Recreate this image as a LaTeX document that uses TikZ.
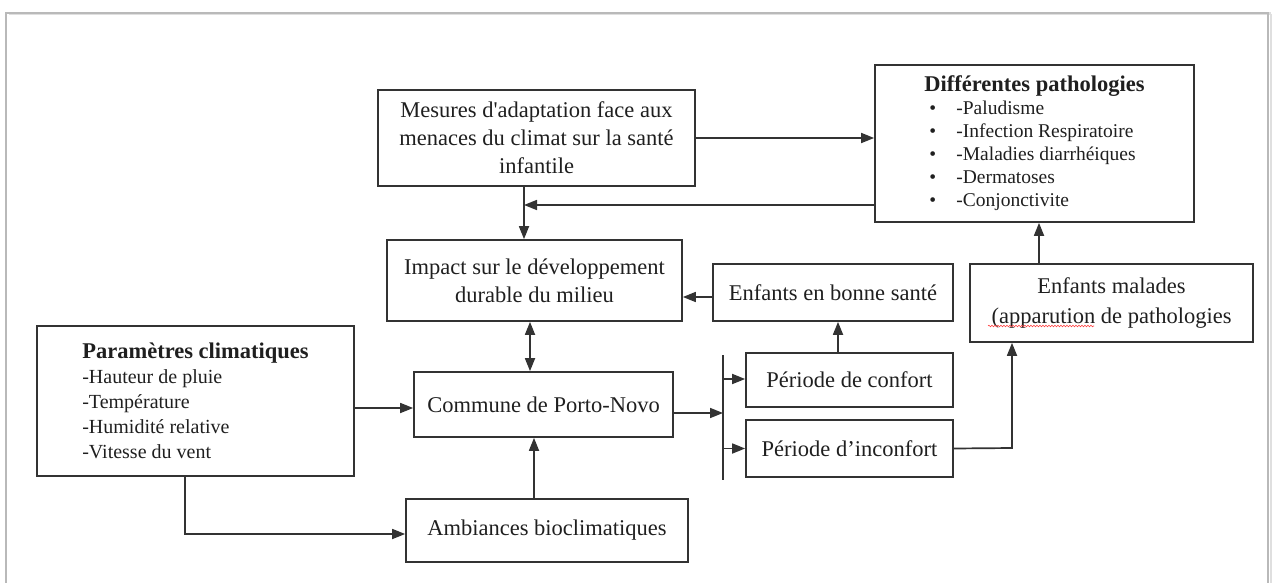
\documentclass[tikz,border=0pt]{standalone}
\usepackage{fontspec}
\setmainfont{Liberation Serif}
\newfontfamily\rawserif{Liberation Serif}
\usetikzlibrary{arrows.meta,decorations.pathmorphing}
\begin{document}
\begin{tikzpicture}[x=1pt,y=-1pt,
  box/.style={draw=black!80,line width=1.7pt,inner sep=2pt,text=black!88,
    font=\fontsize{22.5}{28}\selectfont,align=center},
  tip/.tip={Triangle[length=13pt,width=10pt]},
  arr/.style={draw=black!80,line width=1.7pt,-tip},
  dbl/.style={draw=black!80,line width=1.7pt,tip-tip},
  ln/.style={draw=black!80,line width=1.7pt}]
\useasboundingbox (0,0) rectangle (1276,583);
% page frame
\draw[gray!25,line width=3pt] (9,14) -- (1271,14);
\draw[gray!55,line width=2pt] (6,600) -- (6,13) -- (1268,13) -- (1268,600);
\draw[gray!25,line width=2pt] (1271,14) -- (1271,600);
% nodes
\node[box,minimum width=317pt,minimum height=96pt] (mesures) at (536.5,138)
  {Mesures d{\rawserif'}adaptation face aux\\menaces du climat sur la santé\\infantile};
\node[box,minimum width=319pt,minimum height=157pt,align=left,
  font=\fontsize{19.5}{23}\selectfont] (patho) at (1034.5,143.5)
  {{\fontsize{22.5}{23}\selectfont\bfseries Différentes pathologies}\\
   \hspace*{5pt}\makebox[27pt][l]{•}-Paludisme\\
   \hspace*{5pt}\makebox[27pt][l]{•}-Infection Respiratoire\\
   \hspace*{5pt}\makebox[27pt][l]{•}-Maladies diarrhéiques\\
   \hspace*{5pt}\makebox[27pt][l]{•}-Dermatoses\\
   \hspace*{5pt}\makebox[27pt][l]{•}-Conjonctivite};
\node[box,minimum width=295pt,minimum height=81pt] (impact) at (534.5,280.5)
  {Impact sur le développement\\durable du milieu};
\node[box,minimum width=240pt,minimum height=57pt] (bonne) at (833,292.5)
  {Enfants en bonne santé};
\node[box,minimum width=283pt,minimum height=78pt,font=\fontsize{22.5}{30}\selectfont] (malades) at (1111.5,303)
  {Enfants malades\\(apparution de pathologies};
\node[box,minimum width=317pt,minimum height=150pt,align=left,
  font=\fontsize{20}{25}\selectfont] (params) at (195.5,401)
  {{\fontsize{22.5}{25}\selectfont\bfseries Paramètres climatiques}\\
   -Hauteur de pluie\\-Température\\-Humidité relative\\-Vitesse du vent};
\node[box,minimum width=259pt,minimum height=65pt] (commune) at (543.5,404.5)
  {Commune de Porto-Novo};
\node[box,minimum width=207pt,minimum height=54pt] (confort) at (849.5,380)
  {Période de confort};
\node[box,minimum width=207pt,minimum height=57pt] (inconfort) at (849.5,448.5)
  {Période d’inconfort};
\node[box,minimum width=282pt,minimum height=63pt] (amb) at (547,530.5)
  {Ambiances bioclimatiques};
% spell-check squiggle
\draw[red!75,line width=0.6pt,decorate,decoration={snake,amplitude=0.8pt,segment length=3pt}]
  (988,326) -- (1094,326);
% coordinates
\coordinate (j1) at (524,205);
\coordinate (x530) at (530,0);
\coordinate (x534) at (534,0);
\coordinate (x185) at (185,534);
\coordinate (bartop) at (723,355);
\coordinate (barbot) at (723,480);
\coordinate (barmid) at (723,413);
\coordinate (x838) at (838,0);
\coordinate (c1012) at (1012,448);
\coordinate (x1039) at (1039,0);
% connectors
\draw[arr] (mesures.east) -- (mesures.east -| patho.west);
\draw[arr] (patho.west |- j1) -- (j1);
\draw[arr] (mesures.south -| j1) -- (impact.north -| j1);
\draw[arr] (bonne.west |- 0,297) -- (impact.east |- 0,297);
\draw[dbl] (impact.south -| x530) -- (commune.north -| x530);
\draw[arr] (params.east |- 0,408) -- (commune.west |- 0,408);
\draw[arr] (params.south -| x185) -- (x185) -- (x185 -| amb.west);
\draw[arr] (amb.north -| x534) -- (commune.south -| x534);
\draw[arr] (commune.east |- barmid) -- (barmid);
\draw[ln] (bartop) -- (barbot);
\draw[arr] (bartop |- 0,379) -- (confort.west |- 0,379);
\draw[arr] (bartop |- inconfort.west) -- (inconfort.west);
\draw[arr] (confort.north -| x838) -- (bonne.south -| x838);
\draw[arr] (inconfort.east) -- (c1012) -- (malades.south -| c1012);
\draw[arr] (malades.north -| x1039) -- (patho.south -| x1039);
\end{tikzpicture}
\end{document}
